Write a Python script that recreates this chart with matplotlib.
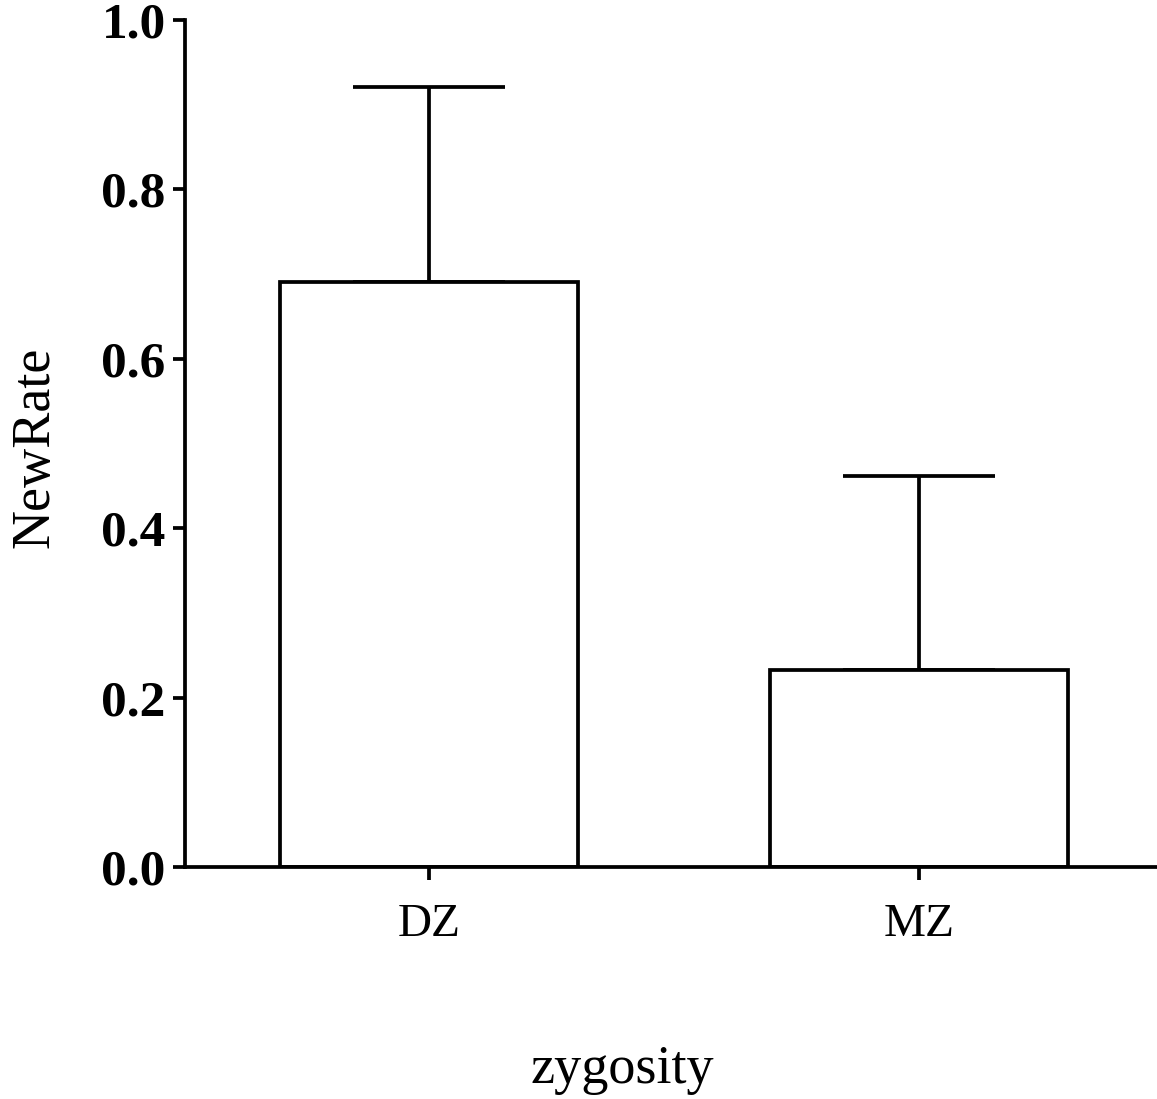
#!/usr/bin/env python3
"""
NewRate by zygosity: bar chart with one-sided error bars
"""

import numpy as np
import matplotlib
matplotlib.use("Agg")
import matplotlib.pyplot as plt

plt.rcParams['font.family'] = 'Liberation Serif'
plt.rcParams['axes.linewidth'] = 2.7

categories = ['DZ', 'MZ']
means = [0.691, 0.232]
upper_err = [0.230, 0.230]
y_ticks = [0.0, 0.2, 0.4, 0.6, 0.8, 1.0]


def create_figure():
    fig = plt.figure(figsize=(11.57, 10.99), dpi=100)
    ax = fig.add_axes([0.160, 0.2111, 0.840, 0.7707])

    x = np.arange(len(categories))
    yerr = [np.zeros(len(means)), upper_err]
    ax.bar(x, means, width=0.61, color='white', edgecolor='black',
           linewidth=2.7, zorder=2)
    ax.errorbar(x, means, yerr=yerr, fmt='none', ecolor='black',
                elinewidth=2.7, capsize=55, capthick=2.7, zorder=1)

    ax.set_xlim(-0.498, 1.486)
    ax.set_ylim(0, 1.0)
    ax.set_xticks(x)
    ax.set_xticklabels(categories, fontsize=34)
    ax.set_yticks(y_ticks)
    ax.set_yticklabels([f'{v:.1f}' for v in y_ticks], fontsize=37,
                       fontweight='bold')
    ax.tick_params(axis='both', direction='out', length=9, width=2.7)
    ax.tick_params(axis='y', pad=5)
    ax.tick_params(axis='x', pad=17)

    ax.spines['top'].set_visible(False)
    ax.spines['right'].set_visible(False)

    ax.set_ylabel('NewRate', fontsize=39)
    ax.yaxis.set_label_coords(-0.154, 0.496)
    ax.yaxis.label.set_va('center')
    ax.set_xlabel('zygosity', fontsize=39)
    ax.xaxis.set_label_coords(0.45, -0.239)
    ax.xaxis.label.set_va('center')
    return fig


def main():
    fig = create_figure()
    fig.savefig('out.png', dpi=100)


if __name__ == "__main__":
    main()
